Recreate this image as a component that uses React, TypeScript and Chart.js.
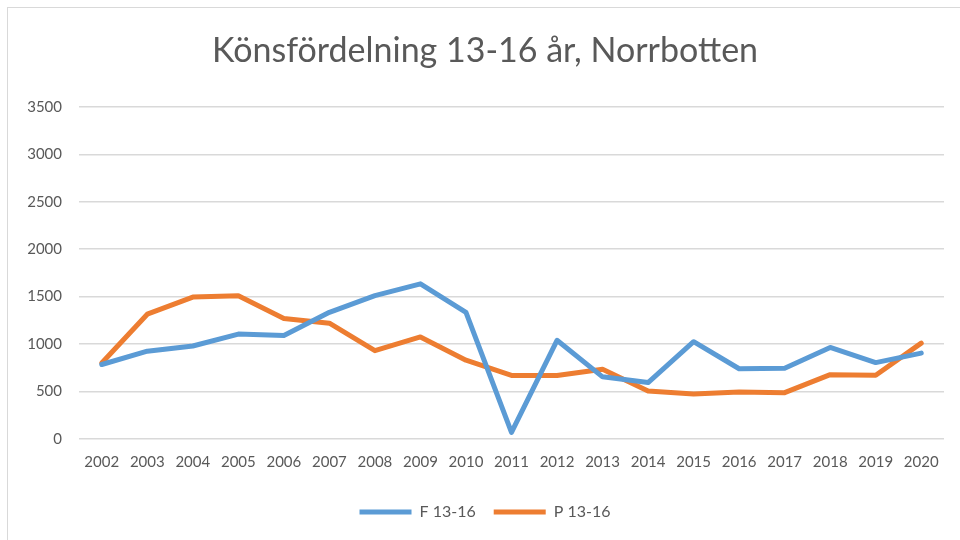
import React, { useEffect, useRef } from "react";
import { Chart, registerables } from "chart.js";

Chart.register(...registerables);

const years = ["2002","2003","2004","2005","2006","2007","2008","2009","2010","2011","2012","2013","2014","2015","2016","2017","2018","2019","2020"];
const f1316 = [785, 925, 980, 1105, 1090, 1335, 1510, 1635, 1335, 70, 1040, 655, 595, 1025, 740, 745, 965, 805, 905];
const p1316 = [800, 1315, 1495, 1510, 1270, 1220, 930, 1075, 830, 670, 670, 735, 505, 475, 495, 488, 678, 672, 1010];
const yTicks = [0, 500, 1000, 1500, 2000, 2500, 3000, 3500];

const TEXT = "#595959";
const GRID = "#d9d9d9";
const FONT = "Lato";

const frame = {
  id: "frame",
  beforeDraw(chart: any) {
    const ctx = chart.ctx;
    ctx.save();
    ctx.fillStyle = "#ffffff";
    ctx.fillRect(0, 0, chart.width, chart.height);
    ctx.strokeStyle = GRID;
    ctx.lineWidth = 1;
    ctx.strokeRect(7.5, 7.5, 1000, 1000);
    ctx.restore();
  },
};

export default function App() {
  const ref = useRef<HTMLCanvasElement>(null);
  useEffect(() => {
    if (!ref.current) return;
    const chart = new Chart(ref.current, {
      type: "line",
      data: {
        labels: years,
        datasets: [
          {
            label: "F 13-16",
            data: f1316,
            borderColor: "#5B9BD5",
            backgroundColor: "#5B9BD5",
            borderWidth: 5,
            pointRadius: 0,
            borderCapStyle: "round",
            borderJoinStyle: "round",
            tension: 0,
          },
          {
            label: "P 13-16",
            data: p1316,
            borderColor: "#ED7D31",
            backgroundColor: "#ED7D31",
            borderWidth: 5,
            pointRadius: 0,
            borderCapStyle: "round",
            borderJoinStyle: "round",
            tension: 0,
          },
        ],
      },
      options: {
        responsive: false,
        animation: false,
        layout: { padding: { left: 26, right: 16, top: 0, bottom: 10 } },
        plugins: {
          title: {
            display: true,
            text: "Könsfördelning 13-16 år, Norrbotten",
            color: TEXT,
            font: { family: FONT, size: 34, weight: "normal" },
            padding: { top: 31, bottom: 35 },
          },
          legend: {
            position: "bottom",
            labels: {
              color: TEXT,
              font: { family: FONT, size: 16 },
              usePointStyle: true,
              pointStyle: "line",
              pointStyleWidth: 52,
              boxHeight: 5,
              padding: 18,
            },
          },
          tooltip: { enabled: false },
        },
        scales: {
          x: {
            offset: true,
            grid: { display: false, drawTicks: false },
            border: { display: false },
            ticks: { color: TEXT, font: { family: FONT, size: 15 }, padding: 14, maxRotation: 0, autoSkip: false },
            afterFit: (s: any) => { s.height = 47; },
          },
          y: {
            min: 0,
            max: 3500,
            afterBuildTicks: (s: any) => { s.ticks = yTicks.map((v) => ({ value: v })); },
            grid: { color: GRID, lineWidth: 1.5, drawTicks: false },
            border: { display: false },
            ticks: {
              color: TEXT,
              font: { family: FONT, size: 15 },
              padding: 17,
              callback: (v: any) => String(v),
            },
            afterFit: (s: any) => { s.width = 53; },
          },
        },
      },
      plugins: [frame],
    });
    return () => chart.destroy();
  }, []);
  return (
    <div style={{ position: "fixed", left: 0, top: 0, width: 960, height: 540, background: "#fff" }}>
      <canvas ref={ref} width={960} height={540} style={{ display: "block" }} />
    </div>
  );
}
